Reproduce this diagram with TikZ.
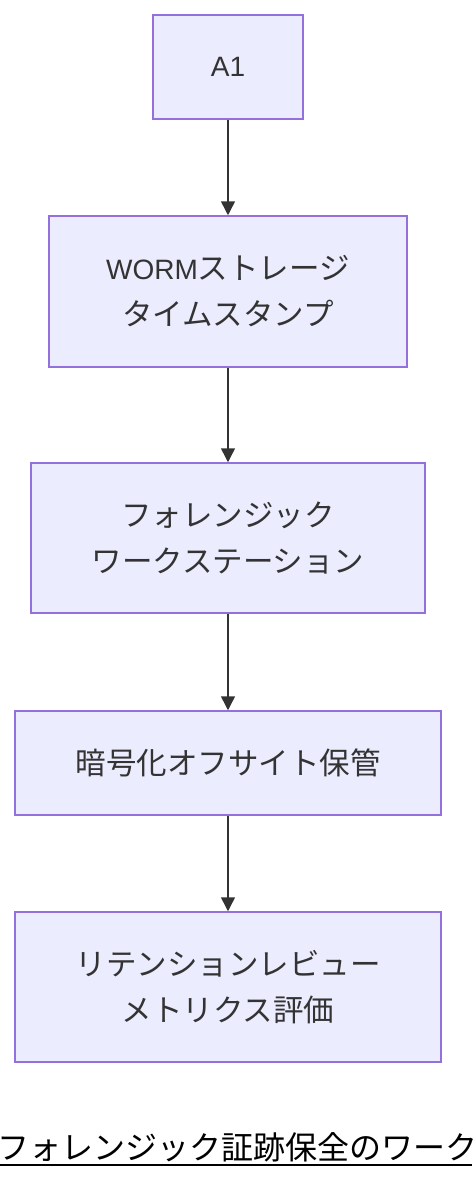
\documentclass[tikz,border=0pt]{standalone}
\usepackage{fontspec}
\setmainfont{Noto Sans CJK JP}
\newfontfamily\latfont{Liberation Sans}
\newcommand{\lat}[1]{{\latfont\fontsize{28pt}{46pt}\selectfont #1}}
\usetikzlibrary{arrows.meta}
\definecolor{nodefill}{HTML}{ECECFF}
\definecolor{nodeborder}{HTML}{9370DB}
\definecolor{txt}{HTML}{333333}
\tikzset{
  box/.style={draw=nodeborder, fill=nodefill, line width=1.5pt, text=txt, inner sep=0pt,
    font=\fontsize{30.5pt}{46pt}\selectfont, align=center},
  flow/.style={draw=txt, line width=1.5pt, -{Triangle[length=14pt,width=14pt]}}
}
\begin{document}
\begin{tikzpicture}[x=1pt,y=-1pt]
\useasboundingbox (0,0) rectangle (472,1180);
\clip (0,0) rectangle (472,1180);
\node[box, minimum width=150pt, minimum height=104pt] (a1) at (228,67) {\lat{A1}};
\node[box, minimum width=358pt, minimum height=151pt] (worm) at (228,291.5) {\lat{WORM}ストレージ\\タイムスタンプ};
\node[box, minimum width=394pt, minimum height=150pt] (fws) at (228,538) {フォレンジック\\ワークステーション};
\node[box, minimum width=426pt, minimum height=104pt] (enc) at (228,763) {暗号化オフサイト保管};
\node[box, minimum width=426pt, minimum height=150pt] (ret) at (228,987) {リテンションレビュー\\メトリクス評価};
\draw[flow] (a1) -- (worm);
\draw[flow] (worm) -- (fws);
\draw[flow] (fws) -- (enc);
\draw[flow] (enc) -- (ret);
\node[anchor=base west, inner sep=0pt, font=\fontsize{32pt}{32pt}\selectfont, text=black] (title) at (-3,1159) {フォレンジック証跡保全のワーク};
\coordinate (ul1) at (0,1165);
\coordinate (ul2) at (472,1165);
\draw[line width=2pt, black] (ul1) -- (ul2);
\end{tikzpicture}
\end{document}
